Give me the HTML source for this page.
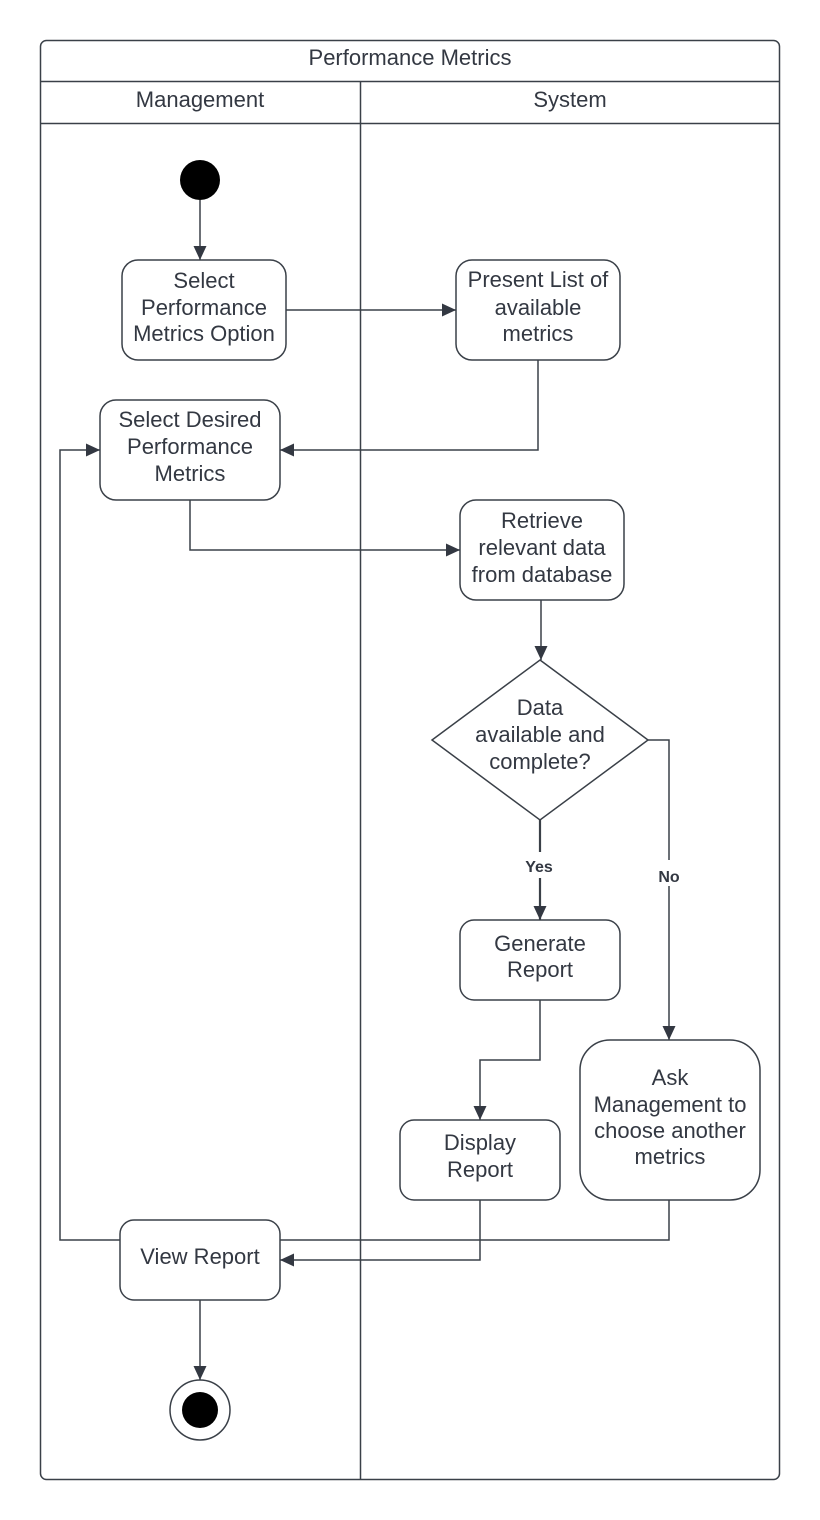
<!DOCTYPE html>
<html><head><meta charset="utf-8"><style>
html,body{margin:0;padding:0;background:#fff;width:820px;height:1520px;overflow:hidden}
svg text{font-family:"Liberation Sans",Arial,sans-serif;fill:#333842;font-size:22px;text-anchor:middle}
</style></head><body>
<svg width="820" height="1520" viewBox="0 0 820 1520" xmlns="http://www.w3.org/2000/svg">
<defs>
<marker id="a" markerWidth="14" markerHeight="14" refX="14" refY="7" orient="auto" markerUnits="userSpaceOnUse">
<path d="M0,0.5 L14,7 L0,13.5 Z" fill="#333842"/></marker>
</defs>
<g fill="none" stroke="#3a4048" stroke-width="1.5">
<rect x="40.5" y="40.5" width="739" height="1439" rx="6" fill="#fff"/>
<line x1="40" y1="81.5" x2="780" y2="81.5"/>
<line x1="40" y1="123.5" x2="780" y2="123.5"/>
<line x1="360.5" y1="81" x2="360.5" y2="1480"/>
</g>
<text x="410" y="65">Performance Metrics</text>
<text x="200" y="107">Management</text>
<text x="570" y="107">System</text>

<circle cx="200" cy="180" r="20" fill="#000"/>

<g fill="none" stroke="#3a4048" stroke-width="1.5">
<line x1="200" y1="200" x2="200" y2="260" marker-end="url(#a)"/>
<line x1="286" y1="310" x2="456" y2="310" marker-end="url(#a)"/>
<path d="M538,360 V450 H280" marker-end="url(#a)"/>
<path d="M190,500 V550 H460" marker-end="url(#a)"/>
<path d="M541,600 V660" marker-end="url(#a)"/>
<path d="M540,820 V920" marker-end="url(#a)" stroke-width="2.2"/>
<path d="M648,740 H669 V1040" marker-end="url(#a)"/>
<path d="M540,1000 V1060 H480 V1120" marker-end="url(#a)"/>
<path d="M669,1200 V1240 H280"/>
<path d="M120,1240 H60 V450 H100" marker-end="url(#a)"/>
<path d="M480,1200 V1260 H280" marker-end="url(#a)"/>
<line x1="200" y1="1300" x2="200" y2="1380" marker-end="url(#a)"/>
</g>

<rect x="650" y="860" width="38" height="26" fill="#fff"/>
<rect x="520" y="852" width="40" height="26" fill="#fff"/>
<text x="539" y="872" style="font-size:16px;font-weight:bold">Yes</text>
<text x="669" y="882" style="font-size:16px;font-weight:bold">No</text>

<g fill="#fff" stroke="#3a4048" stroke-width="1.5">
<rect x="122" y="260" width="164" height="100" rx="16"/>
<rect x="456" y="260" width="164" height="100" rx="16"/>
<rect x="100" y="400" width="180" height="100" rx="16"/>
<rect x="460" y="500" width="164" height="100" rx="16"/>
<path d="M540,660 L648,740 L540,820 L432,740 Z"/>
<rect x="460" y="920" width="160" height="80" rx="14"/>
<rect x="400" y="1120" width="160" height="80" rx="14"/>
<rect x="580" y="1040" width="180" height="160" rx="30"/>
<rect x="120" y="1220" width="160" height="80" rx="14"/>
<circle cx="200" cy="1410" r="30"/>
</g>
<circle cx="200" cy="1410" r="18" fill="#000"/>

<text x="204" y="288">Select</text>
<text x="204" y="315">Performance</text>
<text x="204" y="341">Metrics Option</text>

<text x="538" y="287">Present List of</text>
<text x="538" y="315">available</text>
<text x="538" y="341">metrics</text>

<text x="190" y="427">Select Desired</text>
<text x="190" y="454">Performance</text>
<text x="190" y="481">Metrics</text>

<text x="542" y="528">Retrieve</text>
<text x="542" y="555">relevant data</text>
<text x="542" y="582">from database</text>

<text x="540" y="715">Data</text>
<text x="540" y="742">available and</text>
<text x="540" y="769">complete?</text>

<text x="540" y="951">Generate</text>
<text x="540" y="977">Report</text>

<text x="480" y="1150">Display</text>
<text x="480" y="1177">Report</text>

<text x="670" y="1085">Ask</text>
<text x="670" y="1112">Management to</text>
<text x="670" y="1138">choose another</text>
<text x="670" y="1164">metrics</text>

<text x="200" y="1264">View Report</text>
</svg>
</body></html>
